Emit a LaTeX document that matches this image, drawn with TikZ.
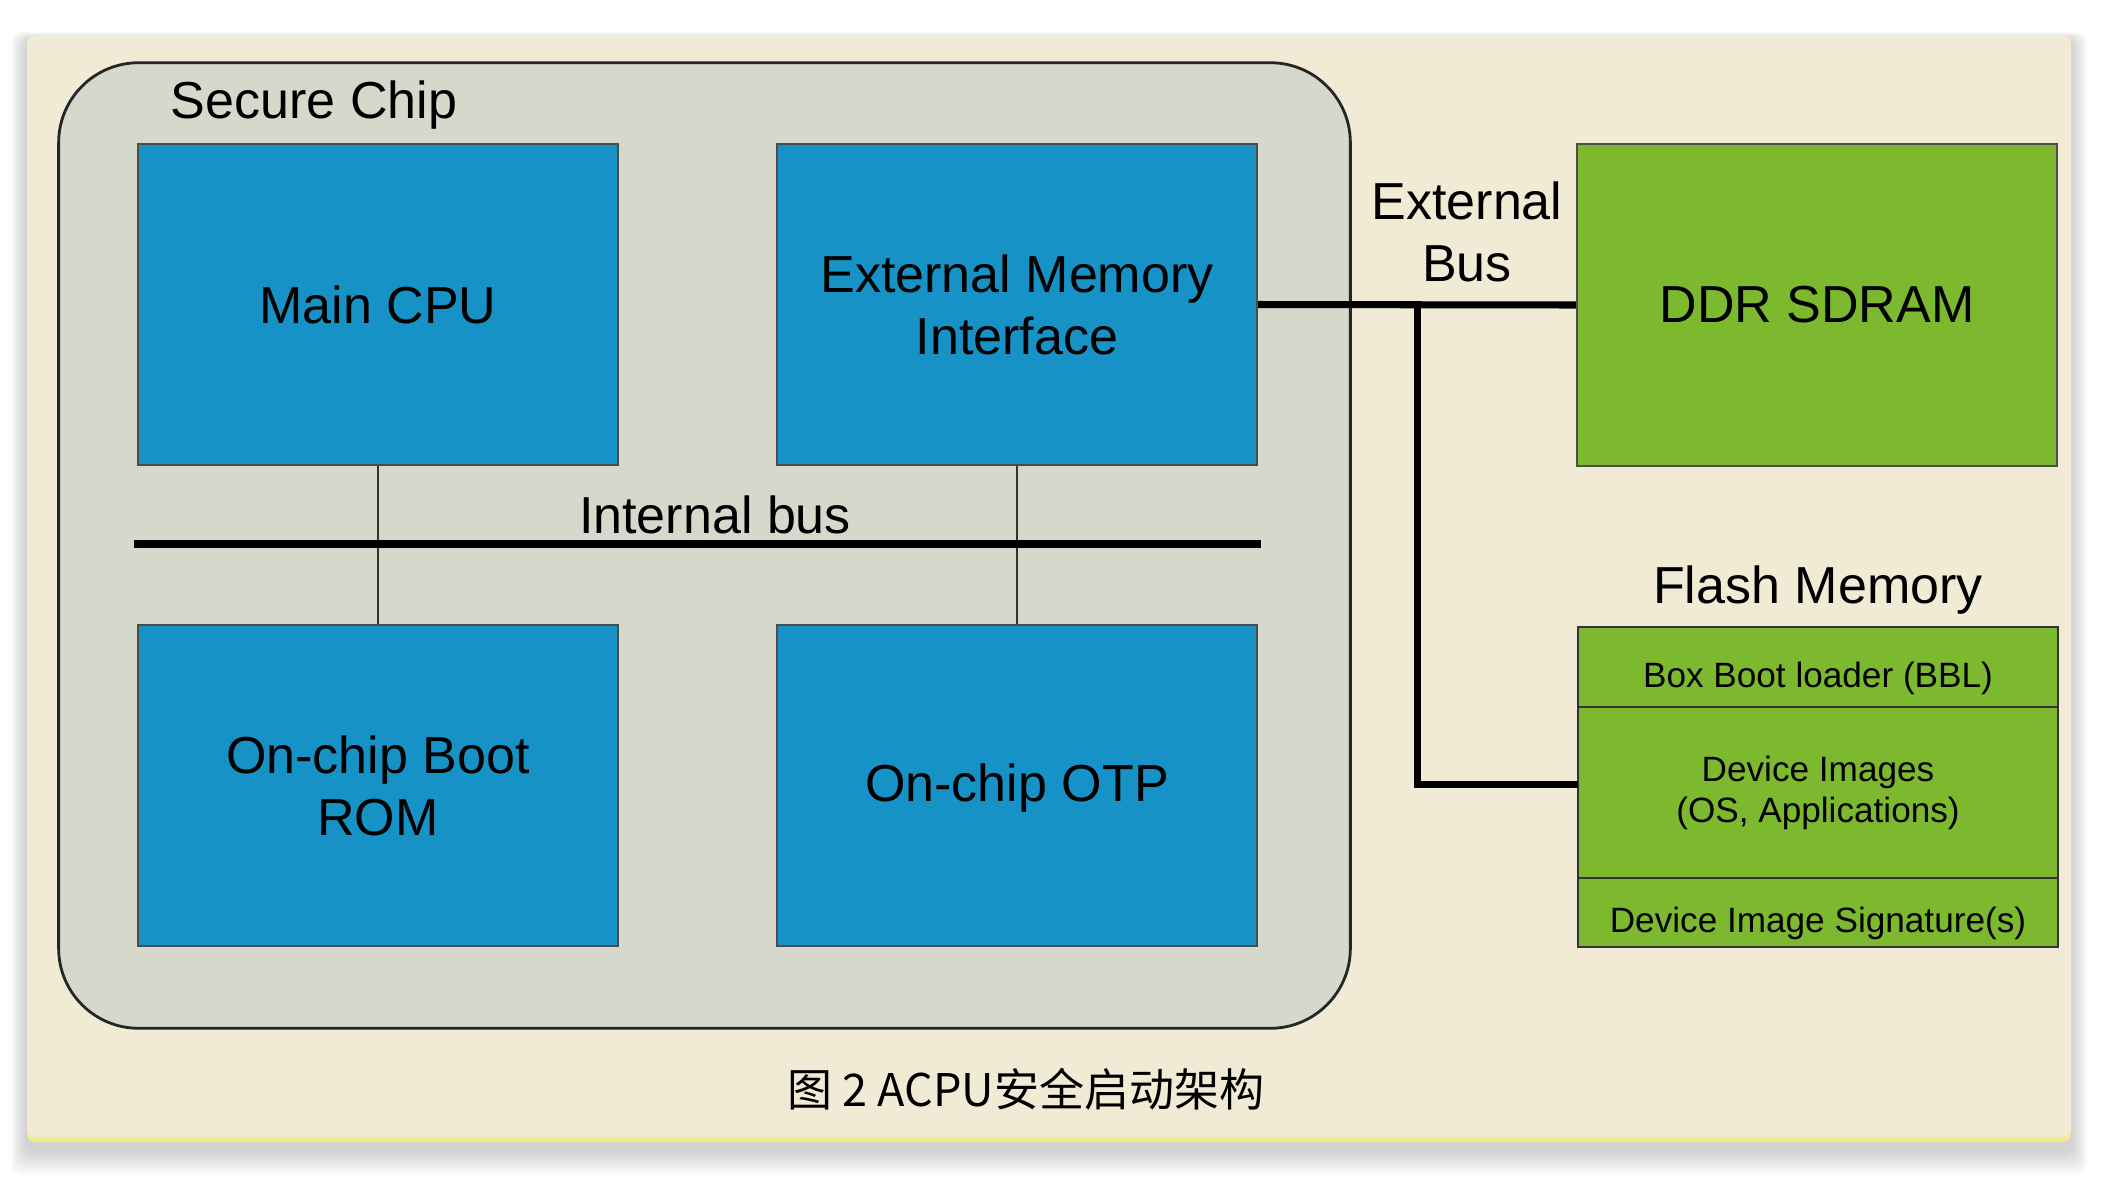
\documentclass[tikz,border=0pt]{standalone}
\usepackage{fontspec}
\setmainfont{Liberation Sans}
\newfontfamily\cjkfont{Noto Sans CJK SC}
\usetikzlibrary{positioning}

\definecolor{chipblue}{RGB}{23,146,198}
\definecolor{memgreen}{RGB}{125,185,46}
\definecolor{chipgray}{RGB}{214,216,204}
\definecolor{paper}{RGB}{241,235,214}
\definecolor{strip}{RGB}{242,236,140}

\newcommand{\bigtxt}{\fontsize{14.8}{17.6}\selectfont}
\newcommand{\smalltxt}{\fontsize{10}{11.7}\selectfont}

\begin{document}
\begin{tikzpicture}[x=0.01cm,y=-0.01cm,
    cpubox/.style={draw=black!70,line width=0.6pt,fill=chipblue,minimum width=4.8cm,minimum height=3.21cm,inner sep=0pt,align=center,font=\bigtxt},
    memcell/.style={draw=black!80,line width=0.6pt,fill=memgreen,minimum width=4.8cm,inner sep=0pt,outer sep=0pt,align=center,font=\smalltxt},
    bus/.style={line width=2pt},
    link/.style={line width=0.6pt,black!80}]
\useasboundingbox (0,0) rectangle (2108,1178);
% panel with soft shadow
\foreach \i in {1,...,8}
    \fill[black,opacity=0.025,rounded corners=0.1cm] ({27-2*\i},{40-\i}) rectangle ({2071+2*\i},{1150+3*\i});
\fill[strip,rounded corners=0.08cm] (27,36) rectangle (2071,1142);
\fill[paper,rounded corners=0.08cm] (27,36) rectangle (2071,1137);

\node (chip) [draw=black!85,line width=0.8pt,fill=chipgray,rounded corners=0.8cm,minimum width=12.91cm,minimum height=9.65cm] at (704.5,545.5) {};
\node (title) [anchor=base west,inner sep=0pt,font=\bigtxt] at (170,118) {Secure Chip};

% internal bus
\coordinate (ibw) at (134,544);
\coordinate (ibe) at (1261,544);
\draw[link] (378,465) -- (378,625);
\draw[link] (1017,465) -- (1017,625);
\draw[bus] (ibw) -- (ibe);
\node (iblabel) [anchor=base,font=\bigtxt] at (715,533) {Internal bus};

\node (cpu) [cpubox] at (378,304.5) {Main CPU};
\node (emi) [cpubox] at (1017,304.5) {External Memory\\Interface};
\node (rom) [cpubox] at (378,785.5) {On-chip Boot\\ROM};
\node (otp) [cpubox,text height=12pt] at (1017,785.5) {On-chip OTP};

% external side
\node (ddr) [cpubox,fill=memgreen] at (1817,305) {DDR SDRAM};
\node (flash) [anchor=base,font=\bigtxt] at (1818,603) {Flash Memory};
\node (bbl) [memcell,minimum height=0.8cm,text height=13.5pt] at (1818,667) {Box Boot loader (BBL)};
\node (img) [memcell,minimum height=1.71cm,below=0pt of bbl] {Device Images\\(OS, Applications)};
\node (sig) [memcell,minimum height=0.69cm,text height=13.5pt,below=0pt of img] {Device Image Signature(s)};

\draw[bus] (emi.east) -- coordinate[pos=0.503] (jn) (ddr.west);
\draw[bus] (jn) |- ([yshift=0.08cm]img.west);
\node (extlabel) [align=center,font=\bigtxt] at (1467,232) {External\\Bus};

\node (caption) [font=\cjkfont\fontsize{12.8}{15}\selectfont] at (1026,1089) {图 2 ACPU安全启动架构};
\end{tikzpicture}
\end{document}
